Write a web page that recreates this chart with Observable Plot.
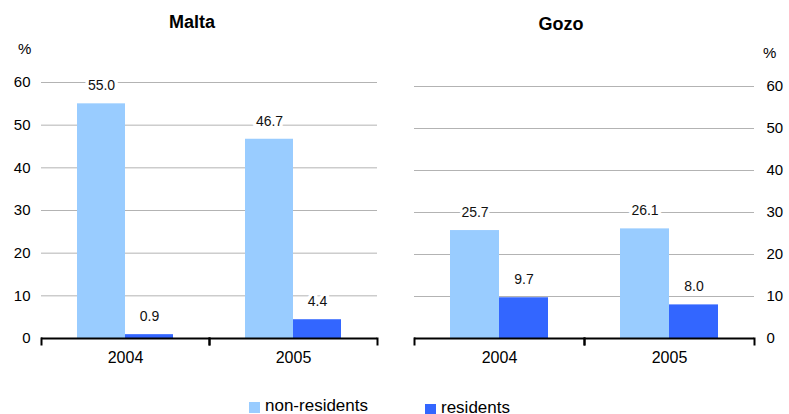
<!DOCTYPE html>
<html><head><meta charset="utf-8">
<script src="https://cdn.jsdelivr.net/npm/d3@7"></script>
<script src="https://cdn.jsdelivr.net/npm/@observablehq/plot@0.6"></script>
<style>
body{margin:0;background:#fff;font-family:"Liberation Sans",Arial,sans-serif;}
#wrap{position:relative;width:789px;height:414px;overflow:hidden;background:#fff;}
.abs{position:absolute;line-height:1;white-space:nowrap;color:#000;}
.sw{position:absolute;width:11px;height:11px;}
</style></head><body><div id="wrap"></div>
<script>
const years = ["2004", "2005"];
const series = ["non-residents", "residents"];
const maltaNonResidents = [55.0, 46.7];
const maltaResidents = [0.9, 4.4];
const gozoNonResidents = [25.7, 26.1];
const gozoResidents = [9.7, 8.0];
const yTicks = [0, 10, 20, 30, 40, 50, 60];
const colors = ["#99ccff", "#3366ff"];

function rowsOf(nonRes, res) {
  const rows = [];
  years.forEach((y, i) => {
    rows.push({year: y, series: series[0], value: nonRes[i]});
    rows.push({year: y, series: series[1], value: res[i]});
  });
  return rows;
}

const BASE = 338;
function panel(rows, {width, ml, mr, mt, side, pad}) {
  const height = 380;
  return Plot.plot({
    width, height,
    marginLeft: ml, marginRight: mr, marginTop: mt, marginBottom: height - BASE,
    style: {fontFamily: "'Liberation Sans', Arial, sans-serif", fontSize: "15px", color: "#000", background: "white", overflow: "visible"},
    fx: {domain: years, padding: 0, label: null},
    x: {domain: series, paddingInner: 0, paddingOuter: 0.72, axis: null},
    y: {domain: [0, 60], ticks: yTicks, tickSize: 0, tickPadding: pad, label: null, axis: side},
    color: {domain: series, range: colors},
    marks: [
      Plot.axisFx({anchor: "bottom", fontSize: 16, tickSize: 0, tickPadding: 13, label: null}),
      Plot.ruleY(yTicks.filter(t => t > 0), {stroke: "#b3b3b3", strokeWidth: 1}),
      Plot.barY(rows, {fx: "year", x: "series", y: "value", fill: "series"}),
      Plot.ruleY([0], {stroke: "#000", strokeWidth: 2}),
      Plot.frame({anchor: "left", insetTop: BASE - mt, insetBottom: -6, stroke: "#000", strokeWidth: 2}),
      Plot.frame({anchor: "right", insetTop: BASE - mt, insetBottom: -6, stroke: "#000", strokeWidth: 2}),
      Plot.text(rows, {fx: "year", x: "series", y: "value", text: d => d.value.toFixed(1), dy: -18,
        fontSize: 14, fill: "#111", stroke: "white", strokeWidth: 7, paintOrder: "stroke"})
    ]
  });
}

const wrap = document.getElementById("wrap");
const left = panel(rowsOf(maltaNonResidents, maltaResidents), {width: 395, ml: 41, mr: 18, mt: 82, side: "left", pad: 11});
left.style.position = "absolute"; left.style.left = "0px"; left.style.top = "0px";
wrap.appendChild(left);
const right = panel(rowsOf(gozoNonResidents, gozoResidents), {width: 394, ml: 19, mr: 35, mt: 86, side: "right", pad: 12});
right.style.position = "absolute"; right.style.left = "395px"; right.style.top = "0px";
wrap.appendChild(right);

function addText(txt, x, y, size, bold, center) {
  const d = document.createElement("div");
  d.className = "abs";
  d.textContent = txt;
  d.style.fontSize = size + "px";
  d.style.top = y + "px";
  if (bold) d.style.fontWeight = "bold";
  if (center) { d.style.left = x + "px"; d.style.transform = "translateX(-50%)"; }
  else d.style.left = x + "px";
  wrap.appendChild(d);
}
addText("Malta", 192, 13, 18, true, true);
addText("Gozo", 561, 15, 18, true, true);
addText("%", 18, 41, 15, false, false);
addText("%", 763, 45, 15, false, false);

function addLegend(label, color, x, y) {
  const s = document.createElement("div");
  s.className = "sw"; s.style.background = color; s.style.left = x + "px"; s.style.top = (y + 4) + "px";
  wrap.appendChild(s);
  addText(label, x + 16, y - 1.5, 17, false, false);
}
addLegend(series[0], colors[0], 249, 398);
addLegend(series[1], colors[1], 425, 400);
</script></body></html>
